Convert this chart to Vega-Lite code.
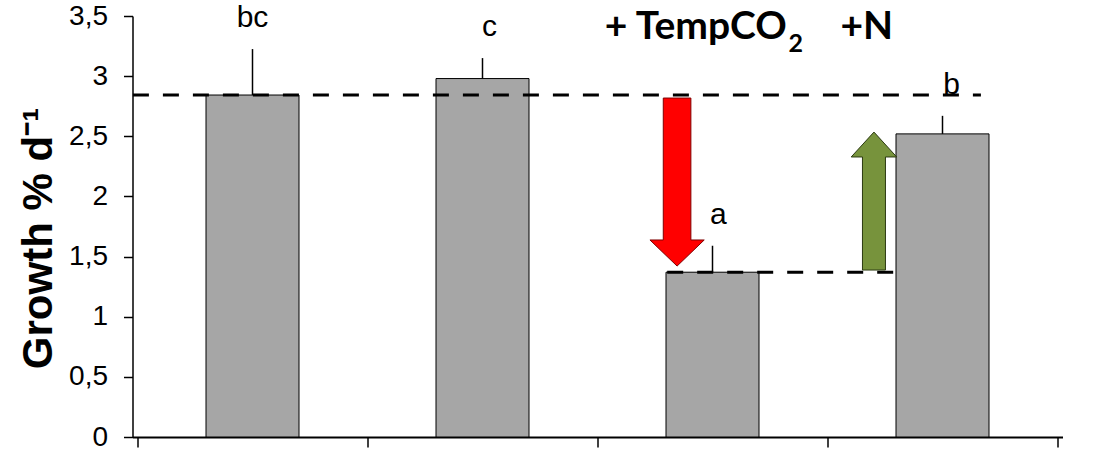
{
  "$schema": "https://vega.github.io/schema/vega-lite/v6.json",
  "width": 930,
  "height": 421,
  "autosize": {"type": "none"},
  "padding": {"left": 132.5, "top": 16, "right": 42, "bottom": 18},
  "background": "white",
  "config": {"view": {"stroke": null}},
  "datasets": {
    "bars": [
      {"group": 1, "growth": 2.843, "upper": 3.225, "letter": "bc", "lx": 1.0},
      {"group": 2, "growth": 2.98, "upper": 3.15, "letter": "c", "lx": 2.03},
      {"group": 3, "growth": 1.37, "upper": 1.59, "letter": "a", "lx": 3.025},
      {"group": 4, "growth": 2.52, "upper": 2.67, "letter": "b", "lx": 4.04}
    ],
    "refs": [
      {"from": 0.48, "to": 4.167, "level": 2.843},
      {"from": 2.803, "to": 3.844, "level": 1.37}
    ],
    "red": [
      {"o": 1, "x": 2.786, "y": 2.818},
      {"o": 2, "x": 2.906, "y": 2.818},
      {"o": 3, "x": 2.906, "y": 1.638},
      {"o": 4, "x": 2.964, "y": 1.638},
      {"o": 5, "x": 2.846, "y": 1.421},
      {"o": 6, "x": 2.728, "y": 1.638},
      {"o": 7, "x": 2.786, "y": 1.638},
      {"o": 8, "x": 2.786, "y": 2.818}
    ],
    "green": [
      {"o": 1, "x": 3.652, "y": 1.388},
      {"o": 2, "x": 3.752, "y": 1.388},
      {"o": 3, "x": 3.752, "y": 2.328},
      {"o": 4, "x": 3.801, "y": 2.328},
      {"o": 5, "x": 3.702, "y": 2.535},
      {"o": 6, "x": 3.603, "y": 2.328},
      {"o": 7, "x": 3.652, "y": 2.328},
      {"o": 8, "x": 3.652, "y": 1.388}
    ],
    "titleMain": [
      {"t": "+ TempCO", "x": 2.532, "y": 3.308},
      {"t": "+N", "x": 3.556, "y": 3.308}
    ],
    "titleSub": [
      {"t": "2", "x": 3.33, "y": 3.2}
    ]
  },
  "layer": [
    {
      "data": {"name": "bars"},
      "mark": {"type": "bar", "width": 93, "fill": "#a6a6a6", "stroke": "black", "strokeWidth": 1},
      "encoding": {
        "x": {
          "field": "group", "type": "quantitative",
          "scale": {"domain": [0.5, 4.5], "nice": false, "zero": false},
          "axis": {
            "values": [0.5, 1.5, 2.5, 3.5, 4.5],
            "labels": false, "title": null, "grid": false,
            "domainColor": "black", "domainWidth": 2,
            "tickColor": "black", "tickWidth": 1.5, "tickSize": 10
          }
        },
        "y": {
          "field": "growth", "type": "quantitative",
          "scale": {"domain": [0, 3.5], "nice": false},
          "axis": {
            "values": [0, 0.5, 1, 1.5, 2, 2.5, 3, 3.5],
            "labelExpr": "replace(format(datum.value, '~g'), '.', ',')",
            "grid": false,
            "domainColor": "black", "domainWidth": 1.5,
            "tickColor": "black", "tickWidth": 1.5, "tickSize": 9,
            "labelFont": "Liberation Sans", "labelFontSize": 28, "labelColor": "black",
            "labelPadding": 16,
            "title": "Growth % d⁻¹",
            "titleFont": "Liberation Sans", "titleFontSize": 42, "titleFontWeight": "bold",
            "titleColor": "black", "titlePadding": 8, "titleY": 222
          }
        },
        "y2": {"datum": 0}
      }
    },
    {
      "data": {"name": "bars"},
      "mark": {"type": "rule", "color": "black", "strokeWidth": 1.5},
      "encoding": {
        "x": {"field": "group", "type": "quantitative"},
        "y": {"field": "growth", "type": "quantitative"},
        "y2": {"field": "upper"}
      }
    },
    {
      "data": {"name": "bars"},
      "mark": {"type": "text", "font": "Liberation Sans", "fontSize": 30, "color": "black", "baseline": "alphabetic", "align": "center", "dy": -22},
      "encoding": {
        "x": {"field": "lx", "type": "quantitative"},
        "y": {"field": "upper", "type": "quantitative"},
        "text": {"field": "letter"}
      }
    },
    {
      "data": {"name": "refs"},
      "mark": {"type": "rule", "color": "black", "strokeWidth": 3, "strokeDash": [16, 14]},
      "encoding": {
        "x": {"field": "from", "type": "quantitative"},
        "x2": {"field": "to"},
        "y": {"field": "level", "type": "quantitative"}
      }
    },
    {
      "data": {"name": "red"},
      "mark": {"type": "line", "fill": "#ff0000", "stroke": "#7f0000", "strokeWidth": 1, "interpolate": "linear"},
      "encoding": {
        "x": {"field": "x", "type": "quantitative"},
        "y": {"field": "y", "type": "quantitative"},
        "order": {"field": "o", "type": "quantitative"}
      }
    },
    {
      "data": {"name": "green"},
      "mark": {"type": "line", "fill": "#77933c", "stroke": "#2b3a12", "strokeWidth": 1, "interpolate": "linear"},
      "encoding": {
        "x": {"field": "x", "type": "quantitative"},
        "y": {"field": "y", "type": "quantitative"},
        "order": {"field": "o", "type": "quantitative"}
      }
    },
    {
      "data": {"name": "titleMain"},
      "mark": {"type": "text", "font": "Lato", "fontWeight": "bold", "fontSize": 39, "color": "black", "align": "left", "baseline": "alphabetic"},
      "encoding": {
        "x": {"field": "x", "type": "quantitative"},
        "y": {"field": "y", "type": "quantitative"},
        "text": {"field": "t"}
      }
    },
    {
      "data": {"name": "titleSub"},
      "mark": {"type": "text", "font": "Lato", "fontWeight": "bold", "fontSize": 25, "color": "black", "align": "left", "baseline": "alphabetic"},
      "encoding": {
        "x": {"field": "x", "type": "quantitative"},
        "y": {"field": "y", "type": "quantitative"},
        "text": {"field": "t"}
      }
    }
  ]
}
